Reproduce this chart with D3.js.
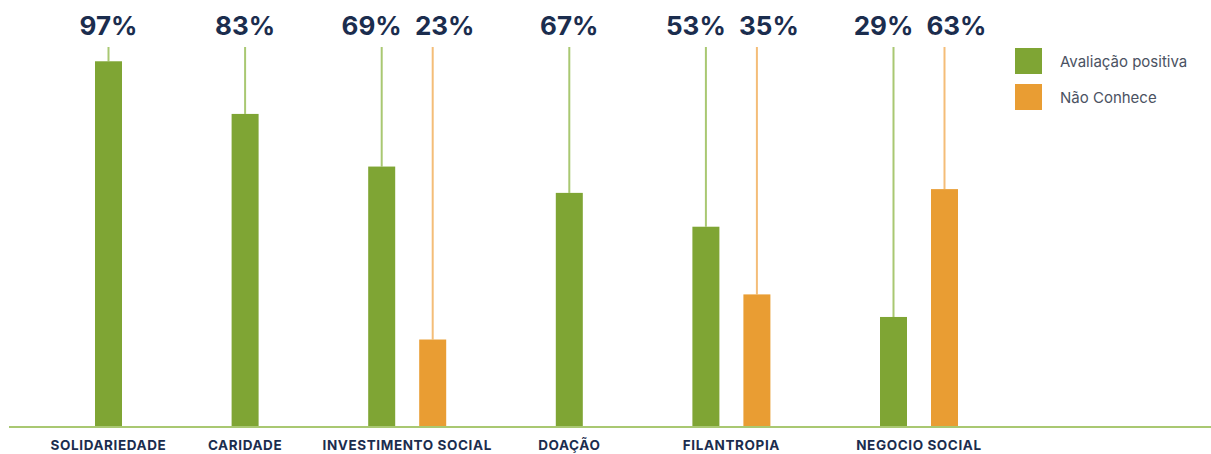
<!DOCTYPE html>
<html>
<head>
<meta charset="utf-8">
<script src="https://cdn.jsdelivr.net/npm/d3@7"></script>
<style>
  body { margin: 0; background: #fff; }
  svg { display: block; }
</style>
</head>
<body>
<svg id="chart" width="1211" height="454"></svg>
<script>
// categorias e valores
const categorias = ['SOLIDARIEDADE', 'CARIDADE', 'INVESTIMENTO SOCIAL', 'DOAÇÃO', 'FILANTROPIA', 'NEGOCIO SOCIAL'];
const positiva = [97, 83, 69, 62, 53, 29];          // altura das barras verdes
const naoConhece = [null, null, 23, null, 35, 63];   // altura das barras laranja
const rotulosPositiva = ['97%', '83%', '69%', '67%', '53%', '29%'];
const rotulosNaoConhece = [null, null, '23%', null, '35%', '63%'];
const legenda = ['Avaliação positiva', 'Não Conhece'];

const verde = '#7fa534', laranja = '#e99d33';
const verdeClaro = '#a9c872', laranjaClaro = '#f4bd78';
const azul = '#1b2d4e';

const svg = d3.select('#chart');
const barW = 27;
const gapLaranja = 51 / 136.6; // deslocamento da barra laranja, em "slots"

// posicao de cada categoria em slots (categoria com laranja ocupa mais espaco)
let extra = 0;
const slots = categorias.map((c, i) => {
  const s = i + extra;
  if (naoConhece[i] != null) extra += gapLaranja;
  return s;
});

const x = d3.scaleLinear().domain([0, 1]).range([95, 231.6]);
const y = d3.scaleLinear().domain([0, 100]).range([426, 50]);

const barras = [];
categorias.forEach((c, i) => {
  barras.push({ i: i, v: positiva[i], s: slots[i], cor: verde, guia: verdeClaro, rot: rotulosPositiva[i], par: naoConhece[i] != null ? -10 : 0 });
  if (naoConhece[i] != null) {
    barras.push({ i: i, v: naoConhece[i], s: slots[i] + gapLaranja, cor: laranja, guia: laranjaClaro, rot: rotulosNaoConhece[i], par: 12 });
  }
});

// linhas guia ate os rotulos
svg.selectAll('line.guia').data(barras).join('line')
  .attr('class', 'guia')
  .attr('x1', d => x(d.s) + barW / 2)
  .attr('x2', d => x(d.s) + barW / 2)
  .attr('y1', 47)
  .attr('y2', d => y(d.v))
  .attr('stroke', d => d.guia)
  .attr('stroke-width', 2);

svg.selectAll('rect.barra').data(barras).join('rect')
  .attr('class', 'barra')
  .attr('x', d => x(d.s))
  .attr('y', d => y(d.v))
  .attr('width', barW)
  .attr('height', d => y(0) - y(d.v))
  .attr('fill', d => d.cor);

svg.selectAll('text.valor').data(barras).join('text')
  .attr('class', 'valor')
  .attr('x', d => x(d.s) + barW / 2 + d.par)
  .attr('y', 35)
  .attr('text-anchor', 'middle')
  .attr('font-family', 'Inter, sans-serif')
  .attr('font-weight', 700)
  .attr('font-size', 26)
  .attr('fill', azul)
  .text(d => d.rot);

// eixo base
svg.append('line')
  .attr('x1', 9).attr('x2', 1211)
  .attr('y1', 427).attr('y2', 427)
  .attr('stroke', verdeClaro)
  .attr('stroke-width', 2);

svg.selectAll('text.cat').data(categorias).join('text')
  .attr('class', 'cat')
  .attr('x', (d, i) => {
    const fim = naoConhece[i] != null ? x(slots[i] + gapLaranja) + barW : x(slots[i]) + barW;
    return (x(slots[i]) + fim) / 2;
  })
  .attr('y', 450)
  .attr('text-anchor', 'middle')
  .attr('font-family', 'Inter, sans-serif')
  .attr('font-weight', 700)
  .attr('font-size', 13.5)
  .attr('letter-spacing', 0.6)
  .attr('fill', azul)
  .text(d => d);

// legenda
const leg = svg.selectAll('g.leg').data(legenda).join('g')
  .attr('class', 'leg')
  .attr('transform', (d, i) => 'translate(1015,' + (48 + i * 36) + ')');
leg.append('rect')
  .attr('width', 27).attr('height', 26)
  .attr('fill', (d, i) => i === 0 ? verde : laranja);
leg.append('text')
  .attr('x', 45).attr('y', 19)
  .attr('font-family', 'Inter, sans-serif')
  .attr('font-size', 15)
  .attr('fill', '#4b5262')
  .text(d => d);
</script>
</body>
</html>
